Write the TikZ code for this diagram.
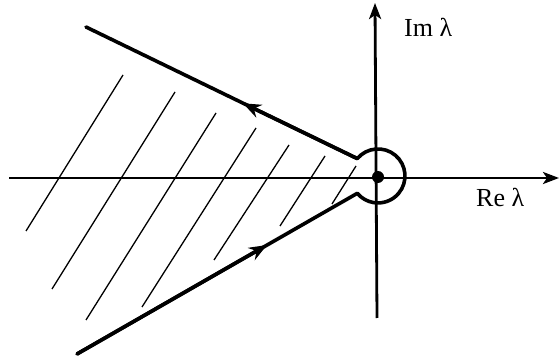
\documentclass[tikz,border=0pt]{standalone}
\usepackage{fontspec}
\setmainfont{Liberation Serif}
\usetikzlibrary{arrows.meta}
\begin{document}
\begin{tikzpicture}[x=1pt,y=-1pt,
  contour/.style={line width=3.6pt, line join=round, line cap=round},
  axisline/.style={line width=2.8pt, -{Stealth[length=16pt,width=12pt,inset=4pt]}},
  hatch/.style={line width=1.3pt},
  midarrow/.style={line width=3.6pt, -{Stealth[length=18pt,width=14pt,inset=6pt]}},
  lbl/.style={font=\fontsize{26}{30}\selectfont, inner sep=0pt, anchor=base west}]
\useasboundingbox (0,0) rectangle (560,358);
% hatching
\draw[hatch] (123,75) -- (26,231);
\draw[hatch] (175,92) -- (52,289);
\draw[hatch] (216,113) -- (86,320);
\draw[hatch] (256,128) -- (142,307);
\draw[hatch] (289,145) -- (214,260);
\draw[hatch] (325,156) -- (280,226);
\draw[hatch] (356,166) -- (332,204);
% axes
\coordinate (xl) at (9,178);
\coordinate (xr) at (559,178);
\coordinate (yb) at (377,318);
\coordinate (yt) at (375,3);
\draw[axisline] (xl) -- (xr);
\draw[axisline] (yb) -- (yt);
% contour
\coordinate (U) at (86,27);
\coordinate (J1) at (357.3,158.6);
\coordinate (J2) at (357.3,193.4);
\coordinate (L) at (77,354);
\coordinate (A1) at (243,103.3);
\coordinate (A2) at (267,245);
\draw[contour] (U) -- (J1) arc[start angle=-140, end angle=140, radius=27] -- (L);
\draw[midarrow] (J1) -- (A1);
\draw[midarrow] (L) -- (A2);
% origin dot
\fill (378,177) circle[radius=6];
% labels
\node[lbl] (im) at (404,37) {Im λ};
\node[lbl] (re) at (476,207) {Re λ};
\end{tikzpicture}
\end{document}
